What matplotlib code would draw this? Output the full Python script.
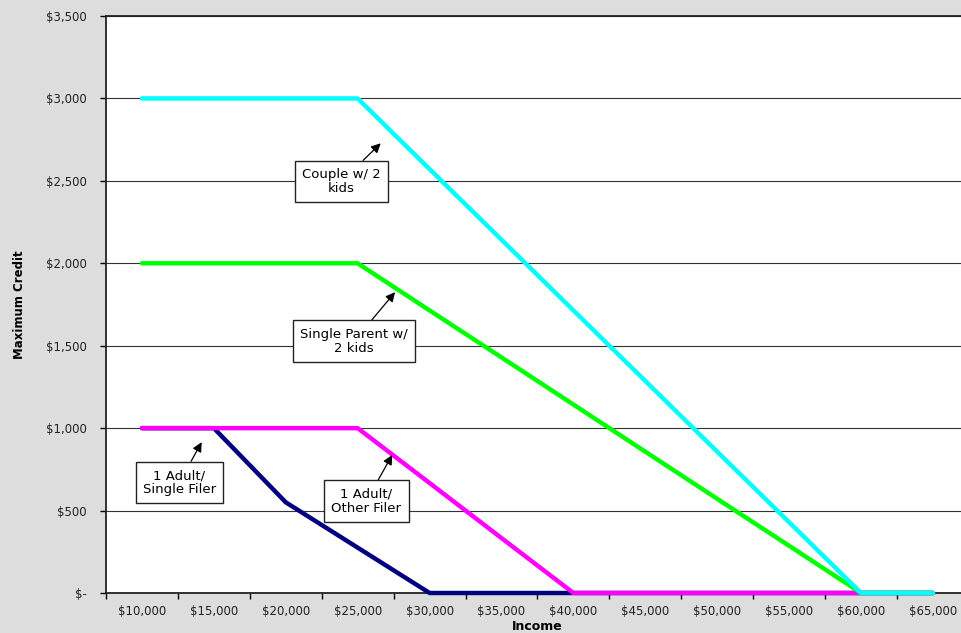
import matplotlib.pyplot as plt
from matplotlib.ticker import FixedLocator, FuncFormatter

# income brackets on the category axis
incomes = ["$10,000", "$15,000", "$20,000", "$25,000", "$30,000", "$35,000",
           "$40,000", "$45,000", "$50,000", "$55,000", "$60,000", "$65,000"]

# maximum credit per household type
adult_single = [1000, 1000, 550, 275, 0, 0, 0, 0, 0, 0, 0, 0]
adult_other = [1000, 1000, 1000, 1000, 667, 333, 0, 0, 0, 0, 0, 0]
single_parent_2kids = [2000, 2000, 2000, 2000, 1714, 1429, 1143, 857, 571, 286, 0, 0]
couple_2kids = [3000, 3000, 3000, 3000, 2571, 2143, 1714, 1286, 857, 429, 0, 0]

series = [
    (adult_single, "#000080"),
    (adult_other, "#ff00ff"),
    (single_parent_2kids, "#00ff00"),
    (couple_2kids, "#00ffff"),
]

# (text, arrow tip (x, y), box centre (x, y)) in category/value units
notes = [
    ("Couple w/ 2\nkids", (3.32, 2728), (2.77, 2495)),
    ("Single Parent w/\n2 kids", (3.52, 1825), (2.95, 1528)),
    ("1 Adult/\nSingle Filer", (0.83, 915), (0.52, 670)),
    ("1 Adult/\nOther Filer", (3.48, 837), (3.12, 558)),
]

plt.rcParams["font.family"] = ["DejaVu Sans"]

fig = plt.figure(figsize=(9.61, 6.33), dpi=100)
fig.patch.set_facecolor("#dddddd")
ax = fig.add_axes([0.1103, 0.0632, 0.8980, 0.9115])
ax.set_facecolor("white")

x = list(range(len(incomes)))
for values, color in series:
    ax.plot(x, values, color=color, lw=3.2, solid_capstyle="round",
            solid_joinstyle="round", clip_on=False, zorder=3)

ax.set_xlim(-0.5, len(incomes) - 0.5)
ax.set_ylim(0, 3500)

# category boundaries carry the tick marks, centres carry the labels
ax.xaxis.set_major_locator(FixedLocator([i - 0.5 for i in range(len(incomes) + 1)]))
ax.xaxis.set_minor_locator(FixedLocator(x))
ax.set_xticklabels([])
ax.set_xticklabels(incomes, minor=True)
ax.tick_params(axis="x", which="major", direction="out", length=4, width=1)
ax.tick_params(axis="x", which="minor", length=0, pad=9, labelsize=8.5,
               labelcolor="#222222")

ax.set_yticks(range(0, 3501, 500))
ax.yaxis.set_major_formatter(FuncFormatter(lambda v, p: "$-" if v == 0 else f"${v:,.0f}"))
ax.tick_params(axis="y", direction="out", length=4, width=1, pad=10, labelsize=8.5,
               labelcolor="#222222")

ax.grid(axis="y", color="#333333", lw=0.8)
ax.set_axisbelow(True)
for side in ["left", "bottom", "top"]:
    ax.spines[side].set_linewidth(1.3)
    ax.spines[side].set_color("#222222")
ax.spines["right"].set_visible(False)

ax.set_xlabel("Income", fontsize=9, fontweight="bold", labelpad=1)
ax.set_ylabel("Maximum Credit", fontsize=8.5, fontweight="bold", labelpad=14)

for text, tip, box in notes:
    ax.annotate(text, xy=tip, xytext=box, ha="center", va="center",
                fontsize=9.5, linespacing=1.1, zorder=5,
                bbox=dict(boxstyle="square,pad=0.55", fc="white", ec="#222222", lw=1),
                arrowprops=dict(arrowstyle="-|>", color="black", lw=0.9,
                                mutation_scale=14, shrinkA=0, shrinkB=0))

fig.savefig("out.png", dpi=100, facecolor=fig.get_facecolor())
